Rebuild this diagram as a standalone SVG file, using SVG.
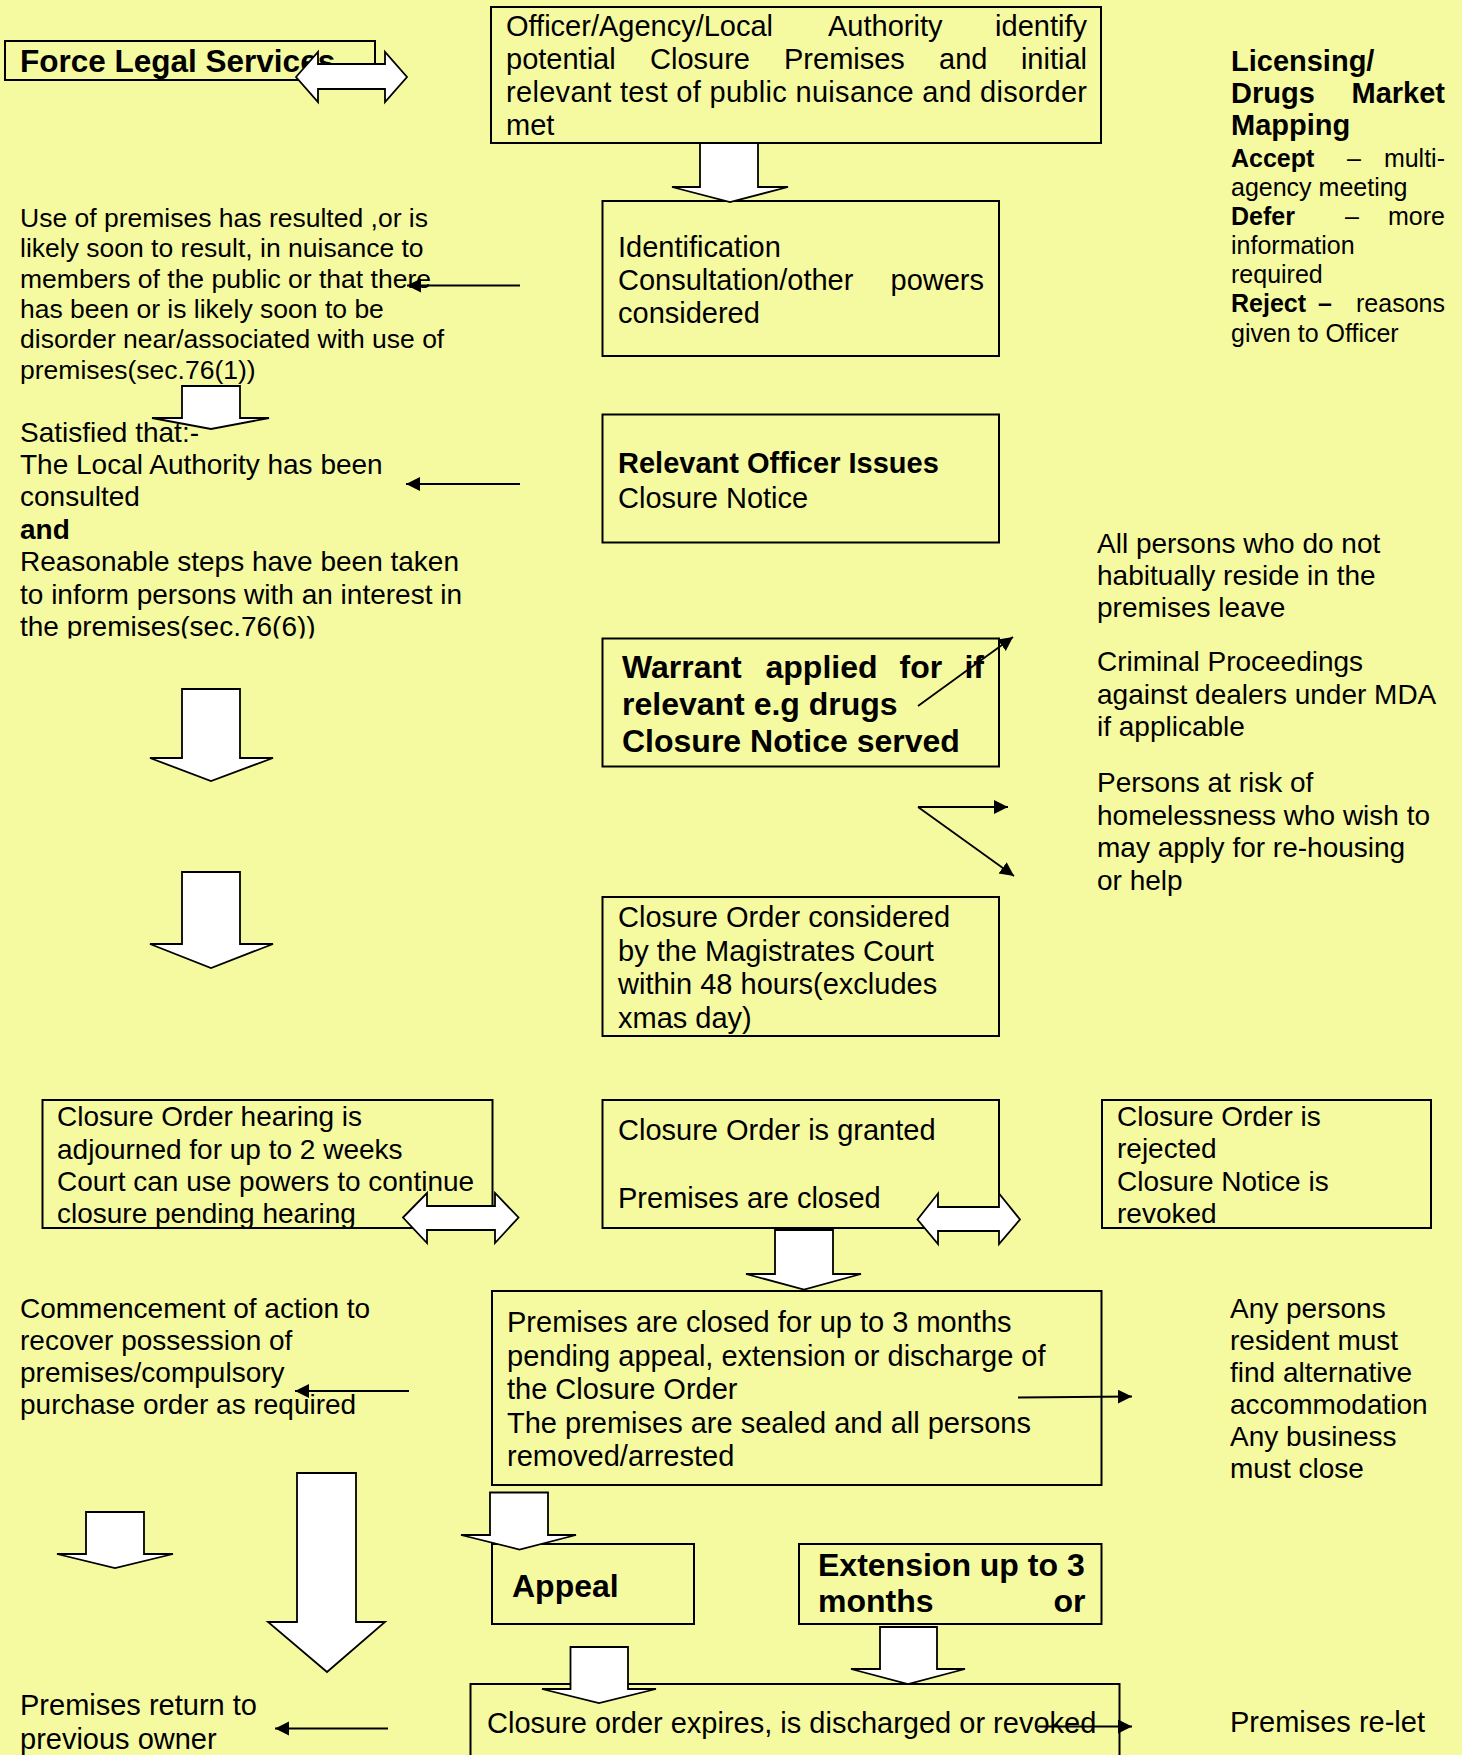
<svg xmlns="http://www.w3.org/2000/svg" width="1462" height="1755" viewBox="0 0 1462 1755">
<style>
.bg{fill:#F5FAA1}
.box{fill:none;stroke:#000;stroke-width:2}
.blk{fill:#fff;stroke:#000;stroke-width:1.8;stroke-linejoin:miter}
.t{font-family:"Liberation Sans",Arial,sans-serif;fill:#000}
.b{font-weight:bold}
.s25{font-size:25px}.s26{font-size:26.5px}.s28{font-size:28px}.s29{font-size:29px}.s31{font-size:31.5px}.s32{font-size:32px}
.conn{stroke:#000;stroke-width:1.8;fill:none;marker-end:url(#ah)}
</style>
<defs>
<marker id="ah" markerUnits="userSpaceOnUse" markerWidth="15" markerHeight="15" refX="14" refY="7" orient="auto">
<path d="M0,0 L14,7 L0,14 z" fill="#000"/>
</marker>
<clipPath id="clip2"><rect x="0" y="400" width="480" height="238.5"/></clipPath>
</defs>
<rect class="bg" x="0" y="0" width="1462" height="1755"/>

<g id="force-legal">
<rect class="box" x="5" y="41" width="370" height="39"/>
<text class="t b s31" x="20" y="72">Force Legal Services</text>
</g>

<g id="identify">
<rect class="box" x="491" y="7" width="610" height="136"/>
<text class="t s29" x="506" y="35.5">Officer/Agency/Local</text>
<text class="t s29" x="828" y="35.5">Authority</text>
<text class="t s29" x="1087" y="35.5" text-anchor="end">identify</text>
<text class="t s29" x="506" y="68.5">potential</text>
<text class="t s29" x="650" y="68.5">Closure</text>
<text class="t s29" x="784" y="68.5">Premises</text>
<text class="t s29" x="939" y="68.5">and</text>
<text class="t s29" x="1087" y="68.5" text-anchor="end">initial</text>
<text class="t s29" x="506" y="101.5" textLength="581" lengthAdjust="spacing">relevant test of public nuisance and disorder</text>
<text class="t s29" x="506" y="134.5">met</text>
</g>

<g id="licensing">
<text class="t b s29" x="1231" y="71">Licensing/</text>
<text class="t b s29" x="1231" y="103">Drugs</text>
<text class="t b s29" x="1445" y="103" text-anchor="end">Market</text>
<text class="t b s29" x="1231" y="135">Mapping</text>
<text class="t b s25" x="1231" y="167">Accept</text>
<text class="t s25" x="1347" y="167">–</text>
<text class="t s25" x="1445" y="167" text-anchor="end">multi-</text>
<text class="t s25" x="1231" y="196">agency meeting</text>
<text class="t b s25" x="1231" y="225">Defer</text>
<text class="t s25" x="1345" y="225">–</text>
<text class="t s25" x="1445" y="225" text-anchor="end">more</text>
<text class="t s25" x="1231" y="254">information</text>
<text class="t s25" x="1231" y="283">required</text>
<text class="t b s25" x="1231" y="312">Reject</text>
<text class="t b s25" x="1318" y="312">–</text>
<text class="t s25" x="1445" y="312" text-anchor="end">reasons</text>
<text class="t s25" x="1231" y="341.5">given to Officer</text>
</g>

<g id="identification">
<rect class="box" x="602.5" y="201" width="396.5" height="155"/>
<text class="t s29" x="618" y="257">Identification</text>
<text class="t s29" x="618" y="290">Consultation/other</text>
<text class="t s29" x="984" y="290" text-anchor="end">powers</text>
<text class="t s29" x="618" y="323">considered</text>
</g>

<g id="use-of-premises">
<text class="t s26" x="20" y="227">Use of premises has resulted ,or is</text>
<text class="t s26" x="20" y="257.3">likely soon to result, in nuisance to</text>
<text class="t s26" x="20" y="287.6">members of the public or that there</text>
<text class="t s26" x="20" y="317.9">has been or is likely soon to be</text>
<text class="t s26" x="20" y="348.2">disorder near/associated with use of</text>
<text class="t s26" x="20" y="378.5">premises(sec.76(1))</text>
</g>

<g id="satisfied" clip-path="url(#clip2)">
<text class="t s28" x="20" y="441.5">Satisfied that:-</text>
<text class="t s28" x="20" y="473.9">The Local Authority has been</text>
<text class="t s28" x="20" y="506.3">consulted</text>
<text class="t b s28" x="20" y="538.7">and</text>
<text class="t s28" x="20" y="571.1">Reasonable steps have been taken</text>
<text class="t s28" x="20" y="603.5">to inform persons with an interest in</text>
<text class="t s28" x="20" y="635.9">the premises(sec.76(6))</text>
</g>

<g id="relevant-officer">
<rect class="box" x="602.5" y="414.5" width="396.5" height="128"/>
<text class="t b s29" x="618" y="473">Relevant Officer Issues</text>
<text class="t s29" x="618" y="507.5">Closure Notice</text>
</g>

<g id="warrant">
<rect class="box" x="602.5" y="638.5" width="396.5" height="128"/>
<text class="t b s32" x="622" y="678">Warrant</text>
<text class="t b s32" x="765.5" y="678">applied</text>
<text class="t b s32" x="899.5" y="678">for</text>
<text class="t b s32" x="984" y="678" text-anchor="end">if</text>
<text class="t b s32" x="622" y="715">relevant e.g drugs</text>
<text class="t b s32" x="622" y="752">Closure Notice served</text>
</g>

<g id="persons-leave">
<text class="t s28" x="1097" y="553">All persons who do not</text>
<text class="t s28" x="1097" y="585">habitually reside in the</text>
<text class="t s28" x="1097" y="617">premises leave</text>
</g>
<g id="criminal">
<text class="t s28" x="1097" y="671">Criminal Proceedings</text>
<text class="t s28" x="1097" y="703.5">against dealers under MDA</text>
<text class="t s28" x="1097" y="736">if applicable</text>
</g>
<g id="homelessness">
<text class="t s28" x="1097" y="792">Persons at risk of</text>
<text class="t s28" x="1097" y="824.5">homelessness who wish to</text>
<text class="t s28" x="1097" y="857">may apply for re-housing</text>
<text class="t s28" x="1097" y="889.5">or help</text>
</g>

<g id="considered">
<rect class="box" x="602.5" y="897" width="396.5" height="139"/>
<text class="t s29" x="618" y="927">Closure Order considered</text>
<text class="t s29" x="618" y="960.5">by the Magistrates Court</text>
<text class="t s29" x="618" y="994">within 48 hours(excludes</text>
<text class="t s29" x="618" y="1027.5">xmas day)</text>
</g>

<g id="adjourned">
<rect class="box" x="42.5" y="1100" width="450" height="128"/>
<text class="t s28" x="57" y="1126">Closure Order hearing is</text>
<text class="t s28" x="57" y="1158.5">adjourned for up to 2 weeks</text>
<text class="t s28" x="57" y="1191">Court can use powers to continue</text>
<text class="t s28" x="57" y="1223">closure pending hearing</text>
</g>

<g id="granted">
<rect class="box" x="602.5" y="1100" width="396.5" height="128"/>
<text class="t s29" x="618" y="1140">Closure Order is granted</text>
<text class="t s29" x="618" y="1208">Premises are closed</text>
</g>

<g id="rejected">
<rect class="box" x="1102" y="1100" width="329" height="128"/>
<text class="t s28" x="1117" y="1126">Closure Order is</text>
<text class="t s28" x="1117" y="1158">rejected</text>
<text class="t s28" x="1117" y="1191">Closure Notice is</text>
<text class="t s28" x="1117" y="1223">revoked</text>
</g>

<g id="commencement">
<text class="t s28" x="20" y="1318">Commencement of action to</text>
<text class="t s28" x="20" y="1350">recover possession of</text>
<text class="t s28" x="20" y="1382">premises/compulsory</text>
<text class="t s28" x="20" y="1414">purchase order as required</text>
</g>

<g id="premises-closed">
<rect class="box" x="492" y="1291" width="609.5" height="194"/>
<text class="t s29" x="507" y="1332">Premises are closed for up to 3 months</text>
<text class="t s29" x="507" y="1365.5">pending appeal, extension or discharge of</text>
<text class="t s29" x="507" y="1399">the Closure Order</text>
<text class="t s29" x="507" y="1432.5">The premises are sealed and all persons</text>
<text class="t s29" x="507" y="1466">removed/arrested</text>
</g>

<g id="any-persons">
<text class="t s28" x="1230" y="1317.5">Any persons</text>
<text class="t s28" x="1230" y="1349.5">resident must</text>
<text class="t s28" x="1230" y="1381.5">find alternative</text>
<text class="t s28" x="1230" y="1413.5">accommodation</text>
<text class="t s28" x="1230" y="1445.5">Any business</text>
<text class="t s28" x="1230" y="1477.5">must close</text>
</g>

<g id="appeal">
<rect class="box" x="492" y="1544" width="202" height="80"/>
<text class="t b s32" x="512" y="1597">Appeal</text>
</g>

<g id="extension">
<rect class="box" x="799" y="1544" width="302.5" height="80"/>
<text class="t b s32" x="818" y="1575.5">Extension up to 3</text>
<text class="t b s32" x="818" y="1612">months</text>
<text class="t b s32" x="1085.5" y="1612" text-anchor="end">or</text>
</g>

<g id="expires">
<rect class="box" x="470.5" y="1684" width="649" height="100"/>
<text class="t s29" x="487" y="1732.5">Closure order expires, is discharged or revoked</text>
</g>

<g id="relet">
<text class="t s29" x="1230" y="1732">Premises re-let</text>
</g>

<g id="return-owner">
<text class="t s29" x="20" y="1715">Premises return to</text>
<text class="t s29" x="20" y="1748.5">previous owner</text>
</g>

<g id="connectors">
<polygon class="blk" points="700,143 758,143 758,187 788,187 730,202 672,187 700,187"/>
<polygon class="blk" points="182,386 240,386 240,418 269,418 211,429 152,418 182,418"/>
<polygon class="blk" points="182,689 240,689 240,758 273,758 211,781 150,758 182,758"/>
<polygon class="blk" points="182,872 240,872 240,944 273,944 211,968 150,944 182,944"/>
<polygon class="blk" points="775,1230 833,1230 833,1274 861,1274 804,1289.5 746,1274 775,1274"/>
<polygon class="blk" points="490,1492.5 548,1492.5 548,1535 576,1535 519.5,1549.5 461,1535 490,1535"/>
<polygon class="blk" points="86,1512 144,1512 144,1554 173,1554 115,1568 57,1554 86,1554"/>
<polygon class="blk" points="297,1473 356,1473 356,1622 385,1622 327,1672 268,1622 297,1622"/>
<polygon class="blk" points="880,1627 937,1627 937,1669 965,1669 908,1684 851,1669 880,1669"/>
<polygon class="blk" points="570.5,1647 628,1647 628,1689 656,1689 599,1703 542,1689 570.5,1689"/>
<polygon class="blk" points="296,77 318,52 318,64 385,64 385,52 407,77 385,102 385,89 318,89 318,102"/>
<polygon class="blk" points="403,1217.5 427,1193 427,1206 495,1206 495,1193 518.5,1217.5 495,1243 495,1230 427,1230 427,1243"/>
<polygon class="blk" points="917.5,1219.5 938,1193.5 938,1207 999,1207 999,1193.5 1020,1219.5 999,1244 999,1231 938,1231 938,1244"/>
<line class="conn" x1="520" y1="285.5" x2="407" y2="285.5"/>
<line class="conn" x1="520" y1="484" x2="406" y2="484"/>
<line class="conn" x1="918" y1="706" x2="1013" y2="637"/>
<line class="conn" x1="918" y1="807" x2="1008" y2="807"/>
<line class="conn" x1="918" y1="807" x2="1014" y2="876"/>
<line class="conn" x1="1018" y1="1397.5" x2="1132" y2="1396.5"/>
<line class="conn" x1="409" y1="1391" x2="295" y2="1391"/>
<line class="conn" x1="1038" y1="1726.5" x2="1132" y2="1726.5"/>
<line class="conn" x1="388" y1="1728.5" x2="275" y2="1728.5"/>
</g>
</svg>
